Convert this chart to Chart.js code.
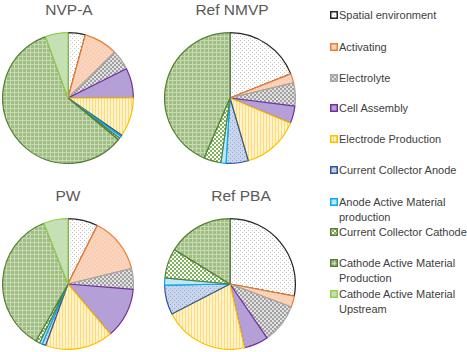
<!DOCTYPE html>
<html>
<head>
<meta charset="utf-8">
<script src="https://cdn.jsdelivr.net/npm/chart.js@4.4.0/dist/chart.umd.min.js"></script>
<style>
  html, body { margin: 0; padding: 0; background: #fff; overflow: hidden; }
  body { width: 467px; height: 352px; position: relative; font-family: "Liberation Sans", Arial, sans-serif; }
  .pie { position: absolute; width: 132px; height: 132px; }
  .ttl { position: absolute; font-size: 15.5px; color: #595959; transform: translate(-50%, -50%); white-space: nowrap; }
  .leg { position: absolute; left: 330px; font-size: 11px; color: #404040; line-height: 14.5px; }
  .leg canvas { position: absolute; left: 0; top: 3px; }
  .leg span { display: block; margin-left: 9px; }
</style>
</head>
<body>
<div class="ttl" style="left:69px; top:10px">NVP-A</div>
<div class="ttl" style="left:232px; top:10px">Ref NMVP</div>
<div class="ttl" style="left:68px; top:196px">PW</div>
<div class="ttl" style="left:241px; top:196px">Ref PBA</div>

<div class="pie" style="left:2px; top:32px"><canvas id="c1"></canvas></div>
<div class="pie" style="left:164px; top:32px"><canvas id="c2"></canvas></div>
<div class="pie" style="left:2px; top:218px"><canvas id="c3"></canvas></div>
<div class="pie" style="left:164px; top:218px"><canvas id="c4"></canvas></div>

<div id="legend"></div>

<script>
// categorias (ordem no sentido horario a partir do topo)
const categorias = [
  'Spatial environment',
  'Activating',
  'Electrolyte',
  'Cell Assembly',
  'Electrode Production',
  'Current Collector Anode',
  'Anode Active Material production',
  'Current Collector Cathode',
  'Cathode Active Material Production',
  'Cathode Active Material Upstream'
];

// valores (%)
const nvpA    = [4.3, 8.4, 5.0, 7.4, 9.7, 0.4, 0.5, 0.5, 58.7, 5.6];
const refNMVP = [19.0, 2.3, 5.7, 4.3, 14.2, 5.5, 1.25, 4.3, 43.5, 0];
const pw      = [7.4, 13.8, 5.1, 12.5, 16.7, 0.9, 0.7, 1.0, 35.8, 6.0];
const refPBA  = [28.0, 2.75, 9.7, 6.0, 21.0, 7.3, 1.8, 7.3, 16.2, 0];

// texto da legenda (quebras de linha como no original)
const legendaTexto = [
  'Spatial environment',
  'Activating',
  'Electrolyte',
  'Cell Assembly',
  'Electrode Production',
  'Current Collector Anode',
  'Anode Active Material<br>production',
  'Current Collector Cathode',
  'Cathode Active Material<br>Production',
  'Cathode Active Material<br>Upstream'
];
const legendaY = [8, 40, 71, 101, 132, 163, 195, 225, 256, 287];

// cria um padrao a partir de uma grade de cores
function criarPadrao(w, h, fundo, desenhar) {
  const c = document.createElement('canvas');
  c.width = w; c.height = h;
  const g = c.getContext('2d');
  g.fillStyle = fundo;
  g.fillRect(0, 0, w, h);
  desenhar(g);
  return g.createPattern(c, 'repeat');
}

function px(g, cor, pts) {
  g.fillStyle = cor;
  pts.forEach(p => g.fillRect(p[0], p[1], p[2] || 1, p[3] || 1));
}

const padroes = [
  criarPadrao(4, 4, '#ffffff', g => px(g, '#c4c4c4', [[0, 0], [2, 2]])),
  criarPadrao(4, 4, '#f9d0b6', g => px(g, '#fbe2d3', [[0, 0], [2, 2]])),
  criarPadrao(4, 4, '#e2e2e2', g => px(g, '#a0a0a0', [[0, 0, 2, 2], [2, 2, 2, 2]])),
  '#b4a0d6',
  criarPadrao(3, 1, '#fff3cf', g => px(g, '#ffdb73', [[0, 0]])),
  criarPadrao(4, 4, '#c9d6ec', g => px(g, '#8fa9d6', [[0, 0], [2, 2]])),
  '#bfe6f8',
  criarPadrao(4, 4, '#ffffff', g => px(g, '#7fb45a', [[0, 0, 2, 2], [2, 2, 2, 2]])),
  criarPadrao(4, 4, '#a0bd83', g => px(g, '#c7dab3', [[0, 0, 4, 1], [0, 0, 1, 4]])),
  '#c5e0b4'
];

const bordas = [
  '#262626', '#ed7d31', '#a5a5a5', '#7030a0', '#ffc000',
  '#2f5597', '#00b0f0', '#548235', '#548235', '#92d050'
];

function criarPizza(id, valores) {
  const ctx = document.getElementById(id).getContext('2d');
  return new Chart(ctx, {
    type: 'pie',
    data: {
      labels: categorias,
      datasets: [{
        data: valores,
        backgroundColor: padroes,
        borderColor: bordas,
        borderWidth: c => (c.raw === 0 ? 0 : 1.2)
      }]
    },
    options: {
      responsive: true,
      maintainAspectRatio: false,
      animation: false,
      layout: { padding: 0 },
      plugins: {
        legend: { display: false },
        tooltip: { enabled: false },
        title: { display: false }
      }
    }
  });
}

criarPizza('c1', nvpA);
criarPizza('c2', refNMVP);
criarPizza('c3', pw);
criarPizza('c4', refPBA);

// legenda em HTML com amostras desenhadas nos mesmos padroes
const leg = document.getElementById('legend');
legendaTexto.forEach((txt, i) => {
  const d = document.createElement('div');
  d.className = 'leg';
  d.style.top = legendaY[i] + 'px';
  const sw = document.createElement('canvas');
  sw.width = 8; sw.height = 8;
  const g = sw.getContext('2d');
  g.fillStyle = padroes[i];
  g.fillRect(0, 0, 8, 8);
  g.strokeStyle = bordas[i];
  g.lineWidth = 1.5;
  g.strokeRect(0.75, 0.75, 6.5, 6.5);
  d.appendChild(sw);
  const s = document.createElement('span');
  s.innerHTML = txt;
  d.appendChild(s);
  leg.appendChild(d);
});
</script>
</body>
</html>
